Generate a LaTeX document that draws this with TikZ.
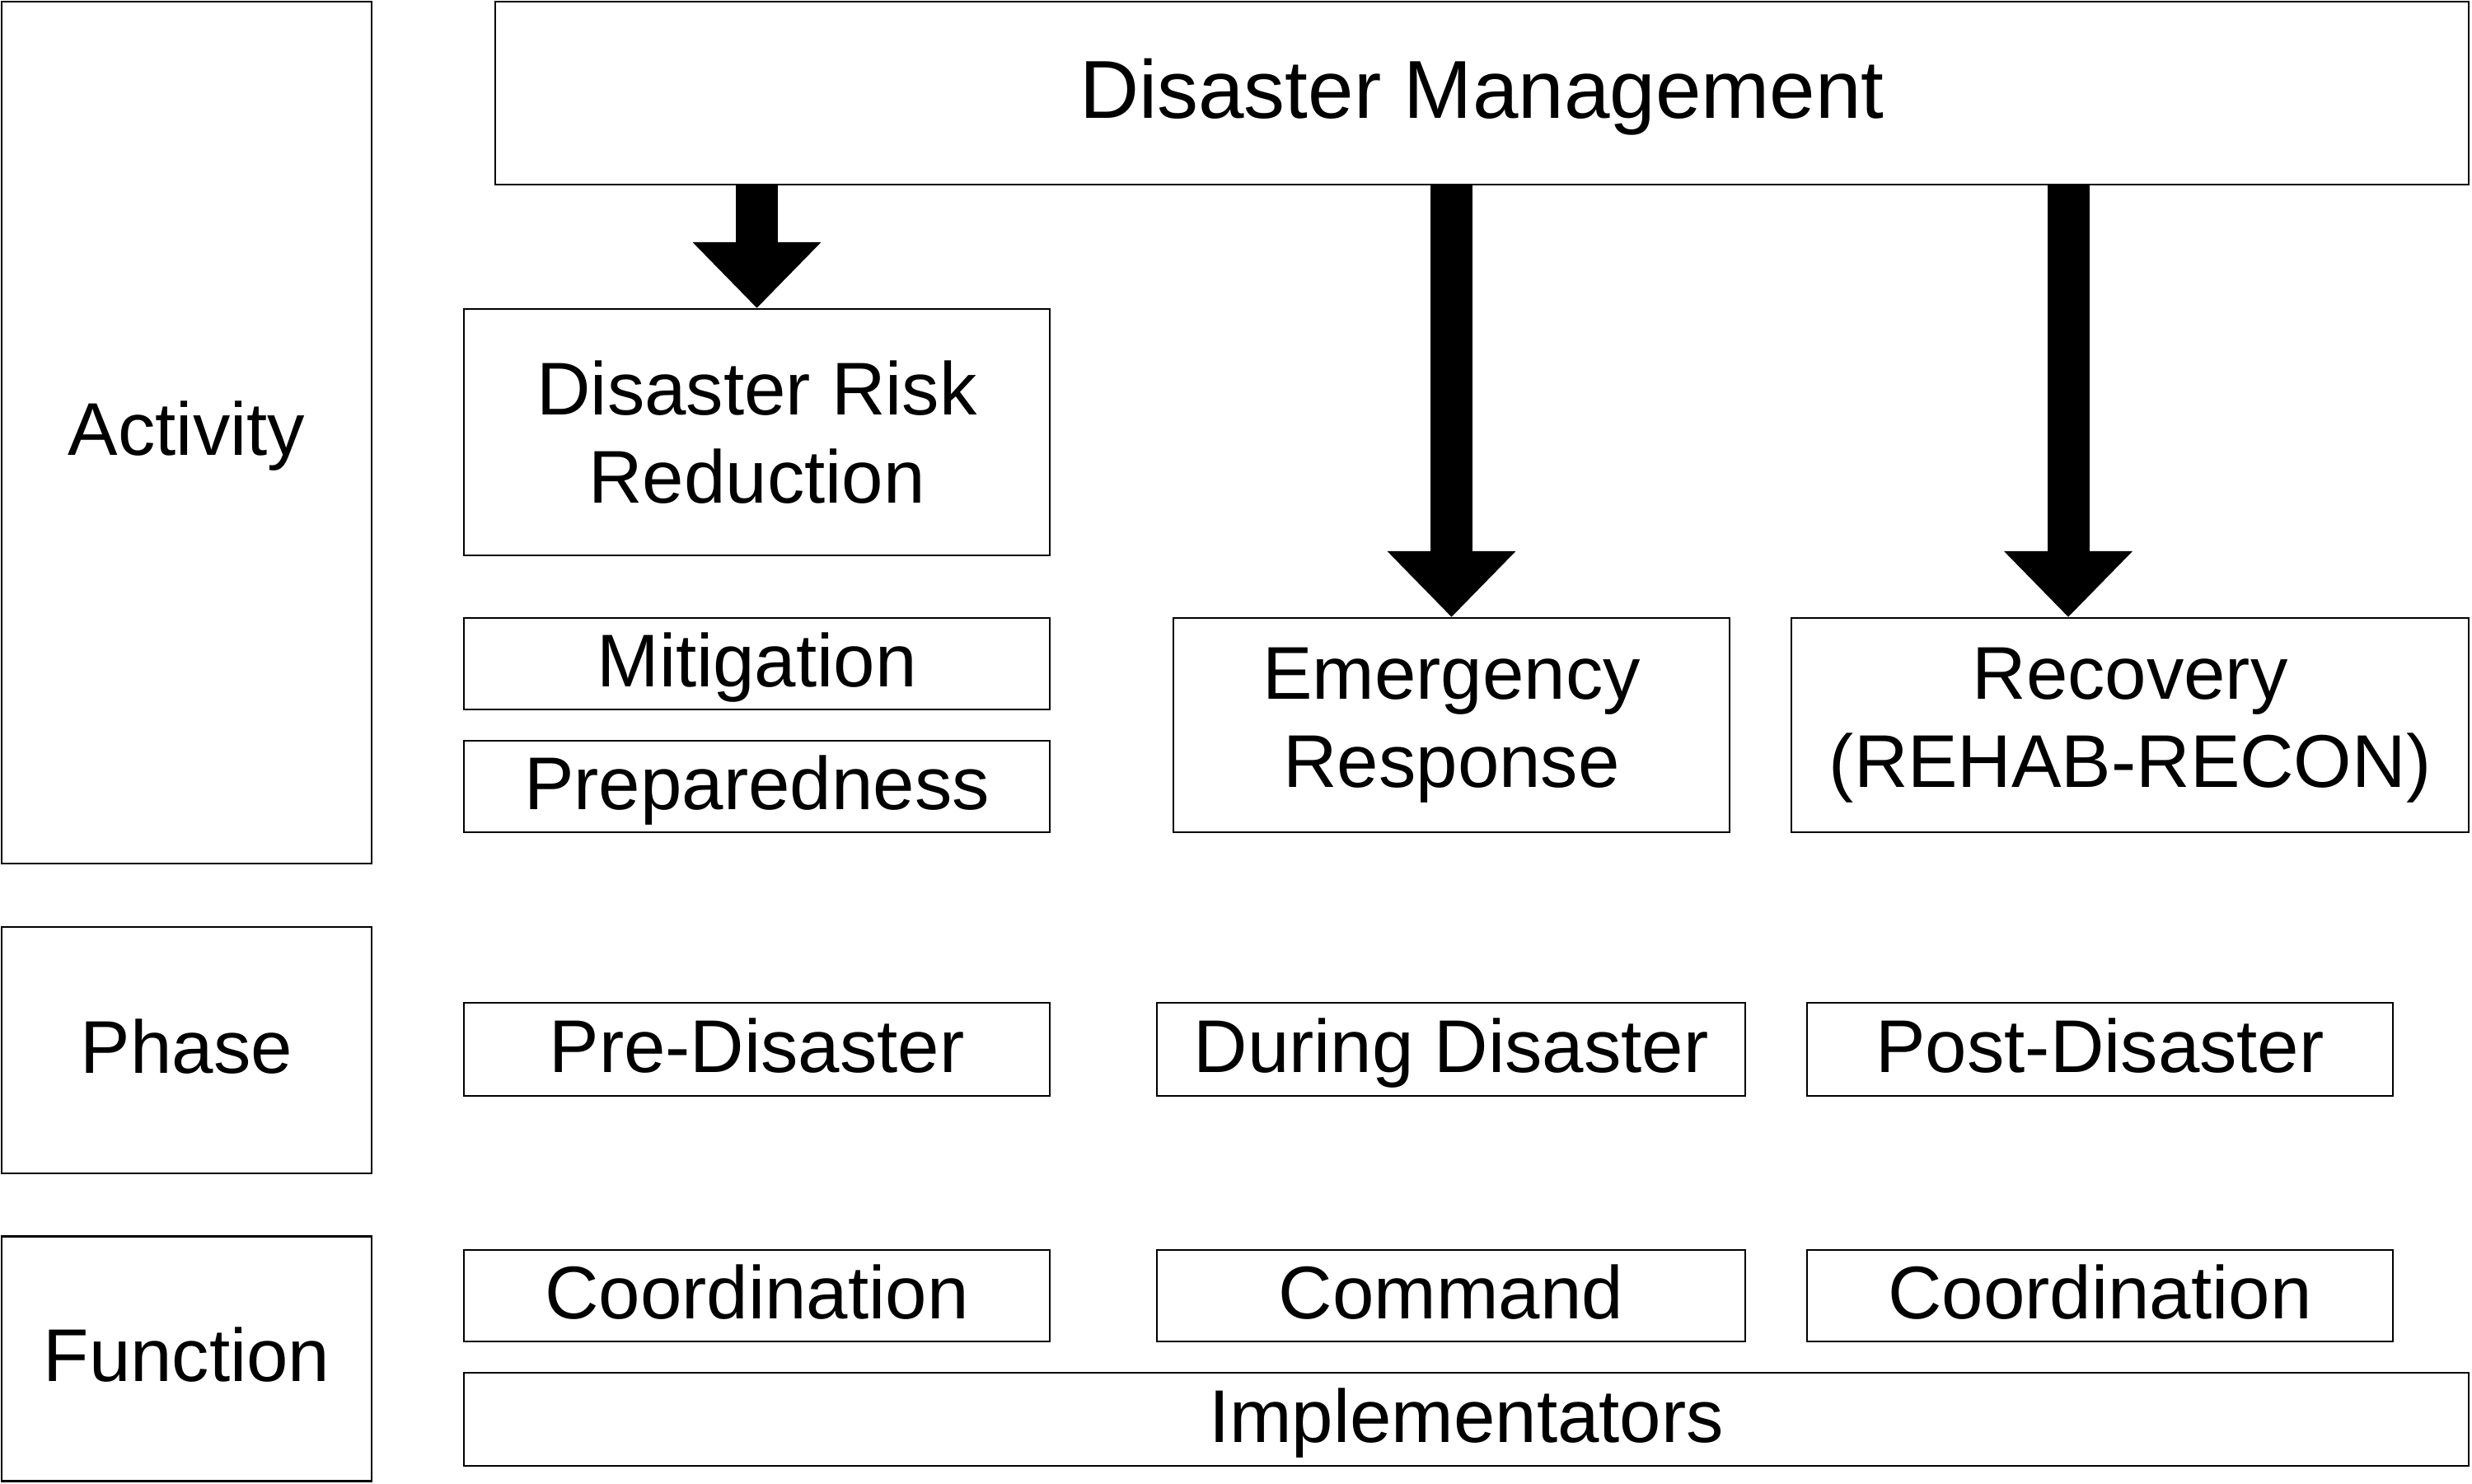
\documentclass[tikz,border=0pt]{standalone}
\usepackage{fontspec}
\setmainfont{Liberation Sans}
\usepackage{tikz}
\usetikzlibrary{positioning, arrows.meta, calc}
\definecolor{BoxBorder}{RGB}{0,0,0}
\definecolor{ArrowFill}{RGB}{0,0,0}
\tikzset{
  % Plain text box
  tbox/.style={
    rectangle,
    draw=BoxBorder,
    line width=0.6pt,
    inner sep=0pt,
    align=center,
    font=\fontsize{25.8}{30.4}\selectfont
  },
  % One-line box (caps centred)
  sbox/.style={
    tbox,
    text height=21pt,
    text depth=5.2pt
  },
  % Title box
  titlebox/.style={
    tbox,
    text height=22.5pt,
    text depth=5pt,
    font=\fontsize{28.4}{34}\selectfont
  },
  % Thick block arrow
  bigarrow/.style={
    draw=ArrowFill,
    line width=0.51cm,
    -{Triangle[width=1.51cm, length=0.8cm]}
  }
}

\begin{document}
\begin{tikzpicture}
  \useasboundingbox (0,0) rectangle (30,-18);
  % row labels
  \node[sbox, minimum width=4.49cm, minimum height=10.46cm] (act) at (2.265,-5.25) {Activity};
  \node[sbox, minimum width=4.49cm, minimum height=2.99cm] (phase) at (2.265,-12.745) {Phase};
  \node[sbox, minimum width=4.49cm, minimum height=2.97cm] (func) at (2.265,-16.49) {Function};
  % activity
  \node[titlebox, minimum width=23.95cm, minimum height=2.22cm] (dm) at (17.985,-1.13) {Disaster Management};
  \node[tbox, minimum width=7.11cm, minimum height=2.99cm] (drr) at (9.185,-5.245) {Disaster Risk\\Reduction};
  \node[sbox, minimum width=7.11cm, minimum height=1.11cm] (mit) at (9.185,-8.055) {Mitigation};
  \node[sbox, minimum width=7.11cm, minimum height=1.11cm] (prep) at (9.185,-9.545) {Preparedness};
  \node[tbox, minimum width=6.75cm, minimum height=2.6cm] (er) at (17.615,-8.8) {Emergency\\Response};
  \node[tbox, minimum width=8.22cm, minimum height=2.6cm] (rec) at (25.85,-8.8) {Recovery\\(REHAB-RECON)};
  % phase
  \node[sbox, minimum width=7.11cm, minimum height=1.13cm] (pre) at (9.185,-12.735) {Pre-Disaster};
  \node[sbox, minimum width=7.14cm, minimum height=1.13cm] (during) at (17.61,-12.735) {During Disaster};
  \node[sbox, minimum width=7.11cm, minimum height=1.13cm] (post) at (25.485,-12.735) {Post-Disaster};
  % function
  \node[sbox, minimum width=7.11cm, minimum height=1.11cm] (coordpre) at (9.185,-15.725) {Coordination};
  \node[sbox, minimum width=7.14cm, minimum height=1.11cm] (cmd) at (17.61,-15.725) {Command};
  \node[sbox, minimum width=7.11cm, minimum height=1.11cm] (coordpost) at (25.485,-15.725) {Coordination};
  \node[sbox, minimum width=24.33cm, minimum height=1.13cm] (impl) at (17.795,-17.225) {Implementators};
  % arrows
  \coordinate (rectop) at ([xshift=-0.75cm]rec.north);
  \draw[bigarrow] (dm.south -| drr.north) -- (drr.north);
  \draw[bigarrow] (dm.south -| er.north) -- (er.north);
  \draw[bigarrow] (dm.south -| rectop) -- (rectop);
\end{tikzpicture}
\end{document}
